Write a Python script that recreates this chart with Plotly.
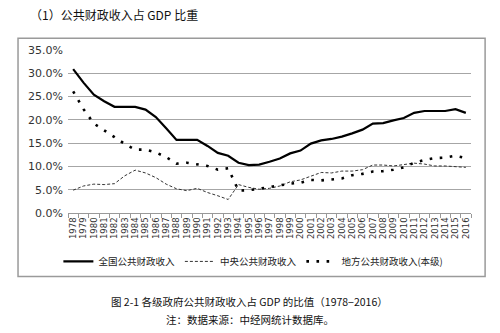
import plotly.graph_objects as go

years = [str(y) for y in range(1978, 2017)]
national = [30.9, 28.0, 25.4, 24.0, 22.8, 22.8, 22.8, 22.2, 20.6, 18.2, 15.7, 15.7, 15.7, 14.4, 12.9, 12.3,
            10.8, 10.3, 10.4, 11.0, 11.7, 12.8, 13.4, 14.9, 15.6, 15.9, 16.4, 17.1, 17.9, 19.2, 19.3, 19.9,
            20.4, 21.5, 21.9, 21.9, 21.9, 22.3, 21.5]
central = [4.9, 5.8, 6.2, 6.1, 6.3, 8.0, 9.2, 8.6, 7.6, 6.2, 5.2, 4.8, 5.3, 4.4, 3.7, 2.9,
           6.1, 5.5, 5.1, 5.3, 5.8, 6.7, 7.1, 7.9, 8.7, 8.6, 9.0, 9.0, 9.3, 10.3, 10.3, 10.1,
           10.4, 10.7, 10.5, 10.1, 10.1, 9.9, 9.8]
local = [26.1, 22.3, 19.2, 17.8, 16.3, 14.8, 13.6, 13.6, 13.0, 12.0, 10.6, 10.8, 10.4, 10.1, 9.3, 9.6,
         4.8, 4.9, 5.2, 5.6, 6.0, 6.3, 6.5, 7.1, 7.0, 7.2, 7.4, 8.1, 8.4, 8.9, 9.0, 9.3,
         9.8, 10.8, 11.4, 11.8, 11.9, 12.3, 11.8]
yticks = [0, 5, 10, 15, 20, 25, 30, 35]
ytick_text = [f"{v:.1f}%" for v in yticks]

CJK = "Noto Sans CJK SC"

fig = go.Figure()
fig.add_trace(go.Scatter(x=years, y=national, mode="lines", name="全国公共财政收入",
                         line=dict(color="black", width=2.2)))
fig.add_trace(go.Scatter(x=years, y=central, mode="lines", name="中央公共财政收入",
                         line=dict(color="#333333", width=1, dash="3px,2px")))
fig.add_trace(go.Scatter(x=years, y=local, mode="lines", name="地方公共财政收入(本级)",
                         line=dict(color="black", width=2.6, dash="2.6px,7.5px")))

fig.update_layout(
    width=500, height=333,
    margin=dict(l=68, r=29, t=50, b=120),
    paper_bgcolor="white", plot_bgcolor="white",
    showlegend=True,
    legend=dict(orientation="h", x=0.46, xanchor="center", y=-0.297, yanchor="middle",
                font=dict(family=CJK, size=9.5, color="#222"), itemwidth=30,
                tracegroupgap=0, bgcolor="rgba(0,0,0,0)"),
    xaxis=dict(type="category", tickmode="array", tickvals=years, ticktext=years,
               tickangle=-90, tickfont=dict(family="DejaVu Sans", size=8.5, color="#333"),
               showgrid=False, showline=True, linecolor="#999", linewidth=1,
               ticks="outside", ticklen=4, tickcolor="#999", tickson="boundaries",
               range=[-0.5, len(years) - 0.5], fixedrange=True),
    yaxis=dict(range=[0, 35], tickvals=yticks, ticktext=ytick_text,
               tickfont=dict(family="DejaVu Sans", size=11, color="#333"),
               showgrid=True, gridcolor="#a6a6a6", gridwidth=1,
               zeroline=False, showline=False, ticks="", ticklabelstandoff=4),
    shapes=[dict(type="rect", xref="paper", yref="paper", x0=-0.124, x1=1.035, y0=-0.389, y1=1.072,
                 line=dict(color="#9a9a9a", width=1.5), fillcolor="rgba(0,0,0,0)", layer="below")],
    annotations=[
        dict(text="（1）公共财政收入占 GDP 比重", xref="paper", yref="paper", x=-0.1, y=1.215,
             xanchor="left", yanchor="middle", showarrow=False,
             font=dict(family=CJK, size=12, color="#111")),
        dict(text="图 2-1 各级政府公共财政收入占 GDP 的比值（1978−2016）", xref="paper", yref="paper",
             x=0.451, y=-0.545, xanchor="center", yanchor="middle", showarrow=False,
             font=dict(family=CJK, size=10.5, color="#111")),
        dict(text="注：数据来源：中经网统计数据库。", xref="paper", yref="paper",
             x=0.451, y=-0.651, xanchor="center", yanchor="middle", showarrow=False,
             font=dict(family=CJK, size=10.5, color="#111")),
    ],
)

fig.write_html("out.html")
